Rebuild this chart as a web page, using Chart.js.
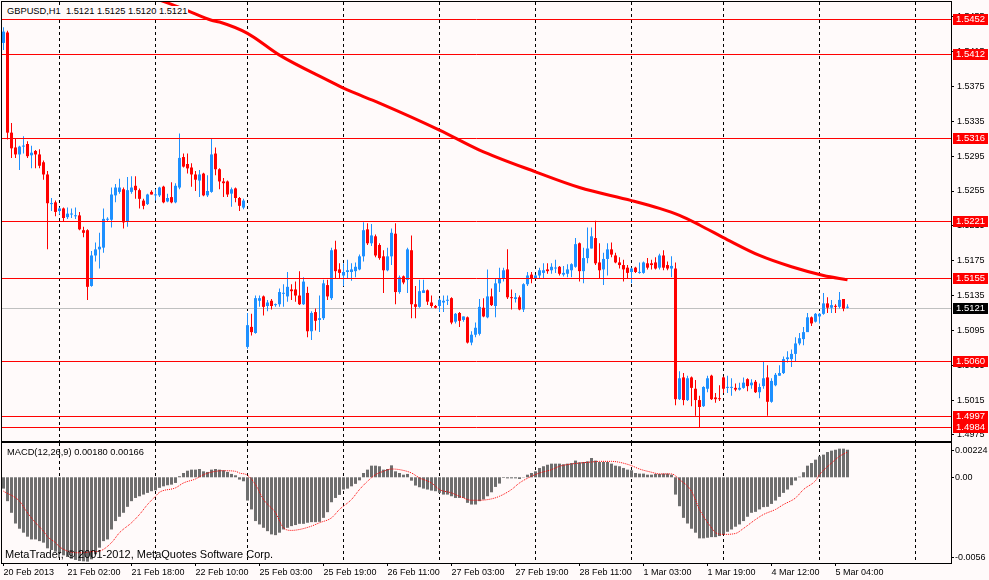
<!DOCTYPE html>
<html><head><meta charset="utf-8">
<script src="https://cdn.jsdelivr.net/npm/chart.js@4.4.1/dist/chart.umd.min.js"></script>
<style>
html,body{margin:0;padding:0;background:#FFFAFA;width:989px;height:580px;overflow:hidden;}
#wrap{position:relative;width:989px;height:580px;background:#FFFAFA;}
canvas{position:absolute;left:0;}
#pc{top:0;} #mc{top:442px;}
.lbl{position:absolute;font-family:"Liberation Sans",Arial,sans-serif;font-size:9.3px;color:#000;white-space:pre;line-height:11px;}
</style></head>
<body><div id="wrap">
<canvas id="pc" width="989" height="442"></canvas>
<canvas id="mc" width="989" height="138"></canvas>
<div class="lbl" style="left:5px;top:6px;background:#FFFAFA;padding:0 1px 0 2px">GBPUSD,H1  1.5121 1.5125 1.5120 1.5121</div>
<div class="lbl" style="left:7px;top:447px">MACD(12,26,9) 0.00180 0.00166</div>
<div class="lbl" style="left:5px;top:548px;font-size:11px;line-height:13px">MetaTrader, © 2001-2012, MetaQuotes Software Corp.</div>
</div>
<script>
// ---- data ----
const open = [1.5425,1.5437,1.5322,1.5305,1.5297,1.5306,1.5309,1.5296,1.5301,1.5297,
1.5288,1.5274,1.5240,1.5242,1.5232,1.5235,1.5225,1.5228,1.5226,1.5227,
1.5210,1.5210,1.5146,1.5181,1.5188,1.5190,1.5222,1.5222,1.5250,1.5254,
1.5257,1.5220,1.5254,1.5261,1.5256,1.5244,1.5240,1.5254,1.5250,1.5250,
1.5260,1.5243,1.5248,1.5242,1.5259,1.5294,1.5286,1.5282,1.5274,1.5267,
1.5275,1.5250,1.5254,1.5298,1.5280,1.5266,1.5266,1.5252,1.5258,1.5247,
1.5236,1.5076,1.5099,1.5092,1.5129,1.5134,1.5123,1.5129,1.5124,1.5125,
1.5137,1.5134,1.5142,1.5142,1.5135,1.5125,1.5138,1.5094,1.5116,1.5107,
1.5109,1.5147,1.5132,1.5188,1.5165,1.5158,1.5162,1.5162,1.5163,1.5165,
1.5180,1.5211,1.5195,1.5203,1.5193,1.5180,1.5164,1.5180,1.5206,1.5139,
1.5157,1.5153,1.5187,1.5125,1.5122,1.5138,1.5141,1.5127,1.5123,1.5123,
1.5127,1.5129,1.5132,1.5105,1.5115,1.5107,1.5110,1.5081,1.5090,1.5091,
1.5121,1.5110,1.5134,1.5123,1.5149,1.5155,1.5165,1.5133,1.5131,1.5133,
1.5119,1.5148,1.5159,1.5155,1.5158,1.5161,1.5165,1.5164,1.5166,1.5168,
1.5159,1.5160,1.5164,1.5168,1.5195,1.5163,1.5178,1.5189,1.5201,1.5173,
1.5165,1.5177,1.5188,1.5181,1.5173,1.5170,1.5167,1.5162,1.5167,1.5161,
1.5161,1.5172,1.5172,1.5173,1.5167,1.5181,1.5170,1.5166,1.5166,1.5016,
1.5041,1.5015,1.5041,1.5028,1.5015,1.5008,1.5028,1.5043,1.5018,1.5017,
1.5041,1.5029,1.5029,1.5029,1.5027,1.5029,1.5039,1.5032,1.5036,1.5024,
1.5031,1.5041,1.5013,1.5032,1.5043,1.5046,1.5062,1.5062,1.5068,1.5080,
1.5085,1.5093,1.5110,1.5105,1.5111,1.5114,1.5126,1.5121,1.5123,1.5122,
1.5131,1.5121];
const high = [1.5443,1.5439,1.5333,1.5316,1.5307,1.5318,1.5312,1.5307,1.5302,1.5303,
1.5290,1.5278,1.5247,1.5244,1.5236,1.5236,1.5236,1.5235,1.5236,1.5231,
1.5214,1.5211,1.5186,1.5196,1.5207,1.5235,1.5225,1.5259,1.5263,1.5269,
1.5259,1.5271,1.5272,1.5272,1.5258,1.5246,1.5252,1.5256,1.5257,1.5260,
1.5261,1.5252,1.5265,1.5264,1.5321,1.5298,1.5298,1.5287,1.5278,1.5279,
1.5276,1.5273,1.5316,1.5305,1.5281,1.5270,1.5267,1.5259,1.5259,1.5248,
1.5246,1.5115,1.5114,1.5135,1.5135,1.5135,1.5130,1.5131,1.5126,1.5143,
1.5148,1.5162,1.5148,1.5151,1.5163,1.5156,1.5145,1.5117,1.5120,1.5135,
1.5153,1.5153,1.5190,1.5198,1.5172,1.5172,1.5176,1.5172,1.5173,1.5182,
1.5219,1.5218,1.5217,1.5205,1.5195,1.5187,1.5190,1.5212,1.5218,1.5158,
1.5158,1.5190,1.5204,1.5146,1.5153,1.5153,1.5142,1.5135,1.5124,1.5132,
1.5135,1.5135,1.5133,1.5115,1.5116,1.5111,1.5111,1.5094,1.5104,1.5131,
1.5132,1.5165,1.5143,1.5154,1.5167,1.5167,1.5188,1.5142,1.5138,1.5135,
1.5149,1.5162,1.5162,1.5159,1.5167,1.5172,1.5172,1.5172,1.5176,1.5169,
1.5169,1.5171,1.5172,1.5201,1.5196,1.5190,1.5213,1.5213,1.5221,1.5195,
1.5184,1.5195,1.5196,1.5184,1.5179,1.5176,1.5170,1.5167,1.5168,1.5173,
1.5174,1.5178,1.5176,1.5179,1.5183,1.5187,1.5174,1.5180,1.5173,1.5048,
1.5046,1.5043,1.5042,1.5038,1.5020,1.5031,1.5043,1.5044,1.5023,1.5032,
1.5042,1.5043,1.5040,1.5034,1.5035,1.5041,1.5040,1.5039,1.5038,1.5034,
1.5059,1.5055,1.5040,1.5046,1.5055,1.5065,1.5071,1.5073,1.5087,1.5092,
1.5099,1.5115,1.5111,1.5115,1.5115,1.5138,1.5133,1.5130,1.5125,1.5139,
1.5131,1.5125];
const low = [1.5417,1.5314,1.5293,1.5293,1.5279,1.5298,1.5293,1.5281,1.5281,1.5281,
1.5268,1.5188,1.5232,1.5226,1.5228,1.5220,1.5223,1.5224,1.5223,1.5210,
1.5202,1.5130,1.5145,1.5174,1.5166,1.5184,1.5220,1.5213,1.5242,1.5252,
1.5212,1.5214,1.5252,1.5246,1.5235,1.5234,1.5239,1.5251,1.5244,1.5248,
1.5241,1.5242,1.5241,1.5241,1.5257,1.5282,1.5275,1.5260,1.5255,1.5248,
1.5249,1.5248,1.5253,1.5273,1.5257,1.5248,1.5248,1.5237,1.5242,1.5232,
1.5234,1.5074,1.5089,1.5091,1.5122,1.5112,1.5117,1.5119,1.5122,1.5122,
1.5122,1.5128,1.5130,1.5128,1.5124,1.5124,1.5087,1.5084,1.5095,1.5093,
1.5107,1.5130,1.5130,1.5155,1.5155,1.5146,1.5155,1.5152,1.5156,1.5164,
1.5174,1.5193,1.5192,1.5179,1.5176,1.5138,1.5163,1.5170,1.5125,1.5137,
1.5148,1.5138,1.5109,1.5109,1.5121,1.5138,1.5124,1.5121,1.5120,1.5116,
1.5116,1.5124,1.5102,1.5103,1.5099,1.5105,1.5080,1.5078,1.5087,1.5089,
1.5110,1.5109,1.5123,1.5110,1.5139,1.5151,1.5131,1.5119,1.5127,1.5118,
1.5116,1.5146,1.5149,1.5155,1.5155,1.5155,1.5160,1.5160,1.5161,1.5158,
1.5157,1.5156,1.5156,1.5167,1.5151,1.5149,1.5172,1.5189,1.5170,1.5155,
1.5147,1.5158,1.5179,1.5172,1.5166,1.5151,1.5155,1.5149,1.5161,1.5160,
1.5160,1.5165,1.5165,1.5165,1.5165,1.5164,1.5164,1.5156,1.5009,1.5015,
1.5009,1.5014,1.5008,1.4997,1.4983,1.5007,1.5024,1.5015,1.5012,1.5014,
1.5023,1.5023,1.5020,1.5025,1.5026,1.5028,1.5025,1.5028,1.5023,1.5017,
1.5028,1.4997,1.5012,1.5031,1.5043,1.5045,1.5058,1.5053,1.5059,1.5078,
1.5078,1.5093,1.5100,1.5104,1.5103,1.5113,1.5115,1.5115,1.5115,1.5120,
1.5117,1.5120];
const close = [1.5438,1.5322,1.5304,1.5297,1.5306,1.5307,1.5295,1.5299,1.5297,1.5284,
1.5274,1.5241,1.5241,1.5231,1.5235,1.5224,1.5229,1.5229,1.5227,1.5211,
1.5207,1.5145,1.5181,1.5188,1.5191,1.5223,1.5223,1.5251,1.5259,1.5259,
1.5219,1.5256,1.5259,1.5256,1.5246,1.5238,1.5251,1.5251,1.5251,1.5259,
1.5242,1.5247,1.5242,1.5261,1.5293,1.5283,1.5281,1.5274,1.5268,1.5274,
1.5250,1.5255,1.5297,1.5280,1.5266,1.5264,1.5251,1.5257,1.5247,1.5238,
1.5244,1.5101,1.5093,1.5132,1.5132,1.5122,1.5127,1.5123,1.5125,1.5139,
1.5138,1.5145,1.5140,1.5135,1.5125,1.5151,1.5094,1.5115,1.5106,1.5109,
1.5149,1.5134,1.5187,1.5163,1.5161,1.5162,1.5164,1.5165,1.5168,1.5180,
1.5210,1.5195,1.5204,1.5181,1.5178,1.5164,1.5180,1.5207,1.5139,1.5156,
1.5150,1.5188,1.5125,1.5122,1.5140,1.5141,1.5128,1.5123,1.5121,1.5130,
1.5129,1.5130,1.5104,1.5114,1.5106,1.5111,1.5081,1.5090,1.5098,1.5122,
1.5111,1.5134,1.5124,1.5149,1.5155,1.5164,1.5133,1.5132,1.5133,1.5119,
1.5148,1.5158,1.5155,1.5158,1.5164,1.5164,1.5163,1.5168,1.5167,1.5160,
1.5161,1.5165,1.5171,1.5194,1.5163,1.5178,1.5189,1.5203,1.5172,1.5164,
1.5177,1.5188,1.5182,1.5173,1.5170,1.5165,1.5161,1.5166,1.5162,1.5162,
1.5173,1.5167,1.5170,1.5166,1.5181,1.5167,1.5166,1.5169,1.5016,1.5040,
1.5015,1.5040,1.5029,1.5015,1.5007,1.5030,1.5040,1.5016,1.5016,1.5016,
1.5028,1.5030,1.5030,1.5027,1.5029,1.5035,1.5031,1.5035,1.5024,1.5030,
1.5040,1.5013,1.5037,1.5044,1.5046,1.5062,1.5064,1.5068,1.5080,1.5086,
1.5093,1.5110,1.5103,1.5114,1.5114,1.5126,1.5121,1.5124,1.5122,1.5130,
1.5120,1.5121];

// moving average (sampled at bar indexes)
const maBar = [36,41,46,52,54,61,69,82,85,94,109,119,133,144,157,164,169,174,181,189,197,205,211];
const maVal = [1.5479,1.5471,1.5462,1.5451,1.5449,1.5436,1.5411,1.5380,1.5373,1.5356,1.5325,1.5302,1.5277,1.5259,1.5244,1.5235,1.5227,1.5216,1.5199,1.5181,1.5168,1.5158,1.5153];

// MACD histogram (one per bar)
const macdHist = [-0.00074,-0.00156,-0.00232,-0.00302,-0.00336,-0.00362,-0.00388,-0.00406,-0.00406,-0.00417,
-0.00427,-0.00464,-0.00475,-0.00486,-0.00497,-0.00510,-0.00521,-0.00532,-0.00540,-0.00547,
-0.00549,-0.00551,-0.00536,-0.00503,-0.00460,-0.00417,-0.00406,-0.00341,-0.00286,-0.00258,
-0.00232,-0.00193,-0.00156,-0.00135,-0.00124,-0.00113,-0.00102,-0.00091,-0.00085,-0.00069,
-0.00059,-0.00052,-0.00048,-0.00037,0.00007,0.00028,0.00043,0.00050,0.00050,0.00054,
0.00039,0.00035,0.00050,0.00054,0.00050,0.00046,0.00035,0.00022,0.00013,-0.00015,
-0.00026,-0.00152,-0.00210,-0.00286,-0.00308,-0.00330,-0.00352,-0.00373,-0.00378,-0.00362,
-0.00341,-0.00330,-0.00319,-0.00312,-0.00304,-0.00304,-0.00297,-0.00293,-0.00293,-0.00291,
-0.00265,-0.00228,-0.00163,-0.00135,-0.00115,-0.00080,-0.00074,-0.00059,-0.00043,-0.00020,
0.00028,0.00050,0.00076,0.00076,0.00072,0.00050,0.00054,0.00078,0.00039,0.00028,
0.00017,0.00022,-0.00022,-0.00054,-0.00065,-0.00074,-0.00080,-0.00087,-0.00091,-0.00102,
-0.00113,-0.00113,-0.00124,-0.00135,-0.00135,-0.00135,-0.00167,-0.00178,-0.00178,-0.00156,
-0.00145,-0.00124,-0.00098,-0.00063,-0.00041,-0.00004,-0.00007,-0.00007,-0.00007,-0.00011,
0.00002,0.00017,0.00028,0.00039,0.00061,0.00072,0.00082,0.00089,0.00089,0.00089,
0.00085,0.00089,0.00093,0.00109,0.00098,0.00100,0.00104,0.00126,0.00109,0.00100,
0.00100,0.00100,0.00089,0.00076,0.00072,0.00061,0.00050,0.00046,0.00028,0.00024,
0.00024,0.00017,0.00017,0.00022,0.00022,0.00024,0.00024,0.00017,-0.00113,-0.00189,
-0.00265,-0.00302,-0.00336,-0.00362,-0.00399,-0.00399,-0.00395,-0.00391,-0.00391,-0.00384,
-0.00373,-0.00356,-0.00341,-0.00323,-0.00308,-0.00286,-0.00258,-0.00232,-0.00226,-0.00210,
-0.00195,-0.00193,-0.00174,-0.00152,-0.00128,-0.00102,-0.00080,-0.00052,-0.00022,0.00004,
0.00033,0.00076,0.00093,0.00115,0.00137,0.00148,0.00165,0.00174,0.00180,0.00187,
0.00187,0.00180];

// MACD signal (sampled at bar indexes)
const sigBar = [0,4,6,8,10,11,13,14,16,18,20,22,24,27,29,32,34,36,38,39,43,45,48,50,53,55,58,59,61,63,65,68,70,72,74,77,79,82,84,87,89,91,93,95,97,99,102,104,107,109,112,114,117,119,122,124,127,129,132,134,137,139,142,144,147,149,152,154,157,159,162,164,167,169,172,174,177,178,180,183,185,188,190,193,195,198,200,203,204,207,209,211];
const sigVal = [-0.00091,-0.00156,-0.00232,-0.00297,-0.00352,-0.00388,-0.00427,-0.00454,-0.00482,-0.00493,-0.00493,-0.00486,-0.00482,-0.00427,-0.00362,-0.00297,-0.00243,-0.00178,-0.00124,-0.00098,-0.00069,-0.00037,-0.00011,0.00017,0.00039,0.00043,0.00039,0.00028,0.00013,-0.00048,-0.00145,-0.00232,-0.00330,-0.00347,-0.00341,-0.00319,-0.00297,-0.00265,-0.00210,-0.00145,-0.00080,-0.00026,0.00017,0.00039,0.00054,0.00050,0.00028,-0.00004,-0.00037,-0.00080,-0.00102,-0.00124,-0.00150,-0.00150,-0.00141,-0.00124,-0.00080,-0.00037,0.00007,0.00028,0.00050,0.00072,0.00087,0.00093,0.00100,0.00104,0.00104,0.00098,0.00076,0.00054,0.00033,0.00022,0.00022,-0.00015,-0.00091,-0.00210,-0.00330,-0.00362,-0.00373,-0.00367,-0.00334,-0.00276,-0.00243,-0.00210,-0.00178,-0.00135,-0.00080,-0.00022,0.00017,0.00093,0.00137,0.00165];

const redLevels = [1.5452,1.5412,1.5316,1.5221,1.5155,1.5060,1.4997,1.4984];
const bidPrice = 1.5121;
const priceTicks = [1.4975,1.5015,1.5055,1.5095,1.5135,1.5175,1.5215,1.5255,1.5295,1.5335,1.5375,1.5415,1.5455];
const macdTicks = [0.00224,0,-0.0056];
const macdTickLabels = ['0.00224','0.00','-0.0056'];
const dayBars = [14,38,61,85,109,133,157,180,204,228];
const labelBars = [0,16,32,48,64,80,96,112,128,144,160,176,192,208];
const labelTexts = ['20 Feb 2013','21 Feb 02:00','21 Feb 18:00','22 Feb 10:00','25 Feb 03:00','25 Feb 19:00','26 Feb 11:00','27 Feb 03:00','27 Feb 19:00','28 Feb 11:00','1 Mar 03:00','1 Mar 19:00','4 Mar 12:00','5 Mar 04:00'];

// ---- styling / layout ----
const FONT = '"Liberation Sans", Arial, sans-serif';
const FS = 9;
const BULL = '#1E90FF', BEAR = '#FF0000', HIST = '#6E6E6E';
const XMIN = -0.375, XMAX = 236.875;
const PMIN = 1.4968, PMAX = 1.5472;
Chart.defaults.font.family = FONT;
Chart.defaults.font.size = FS;
Chart.defaults.color = '#000';

const idx = open.map((_, i) => i);
const candleColor = idx.map(i => close[i] >= open[i] ? BULL : BEAR);

function zeroPad(s){ s.paddingLeft = 0; s.paddingRight = 0; s.paddingTop = 0; s.paddingBottom = 0; }

const framePlugin = {
  id: 'frame',
  afterDraw(chart) {
    const {ctx, chartArea: a} = chart;
    ctx.save();
    ctx.strokeStyle = '#000'; ctx.lineWidth = 1;
    ctx.strokeRect(Math.round(a.left) - 0.5, Math.round(a.top) - 0.5, Math.round(a.right - a.left) + 1, Math.round(a.bottom - a.top) + 1);
    ctx.restore();
  }
};

const levelPlugin = {
  id: 'levels',
  beforeDatasetsDraw(chart) {
    const {ctx, chartArea: a, scales: {y}} = chart;
    const py = Math.round(y.getPixelForValue(bidPrice)) + 0.5;
    ctx.save();
    ctx.strokeStyle = '#C0C0C0'; ctx.lineWidth = 1;
    ctx.beginPath(); ctx.moveTo(a.left, py); ctx.lineTo(a.right, py); ctx.stroke();
    ctx.restore();
  },
  afterDatasetsDraw(chart) {
    const {ctx, chartArea: a, scales: {y}} = chart;
    ctx.save();
    ctx.strokeStyle = '#FF0000'; ctx.lineWidth = 1;
    redLevels.forEach(v => {
      const py = Math.round(y.getPixelForValue(v)) + 0.5;
      ctx.beginPath(); ctx.moveTo(a.left, py); ctx.lineTo(a.right, py); ctx.stroke();
    });
    ctx.restore();
  },
  afterDraw(chart) {
    const {ctx, chartArea: a, scales: {y}} = chart;
    ctx.save();
    ctx.font = '9.5px ' + FONT;
    ctx.textBaseline = 'middle';
    const box = (v, bg) => {
      const py = Math.round(y.getPixelForValue(v));
      ctx.fillStyle = bg;
      ctx.fillRect(a.right + 2, py - 5, 35, 11);
      ctx.fillStyle = '#FFFFFF';
      ctx.fillText(v.toFixed(4), a.right + 5, py + 0.5);
    };
    redLevels.forEach(v => box(v, '#FF0000'));
    box(bidPrice, '#000000');
    ctx.restore();
  }
};

const macdAxisPlugin = {
  id: 'macdAxis',
  afterDraw(chart) {
    const {ctx, chartArea: a, scales: {y}} = chart;
    ctx.save();
    ctx.font = FS + 'px ' + FONT;
    ctx.fillStyle = '#000'; ctx.strokeStyle = '#000'; ctx.lineWidth = 1;
    ctx.textBaseline = 'middle';
    macdTicks.forEach((v, k) => {
      let py = y.getPixelForValue(v);
      py = Math.min(Math.max(py, a.top + 7), a.bottom - 6);
      py = Math.round(py) + 0.5;
      ctx.beginPath(); ctx.moveTo(a.right, py); ctx.lineTo(a.right + 3, py); ctx.stroke();
      ctx.fillText(macdTickLabels[k], a.right + 4, py);
    });
    ctx.restore();
  }
};

// ---- price chart ----
new Chart(document.getElementById('pc'), {
  type: 'bar',
  data: {
    datasets: [
      { type: 'bar', data: idx.map(i => ({x: i, y: [low[i], high[i]]})), backgroundColor: candleColor,
        barThickness: 1, grouped: false, inflateAmount: 0, borderWidth: 0, order: 3 },
      { type: 'bar', data: idx.map(i => ({x: i, y: [open[i], close[i]]})), backgroundColor: candleColor,
        barThickness: 3, minBarLength: 1, grouped: false, inflateAmount: 0, borderWidth: 0, order: 2 },
      { type: 'line', data: maBar.map((b, k) => ({x: b, y: maVal[k]})), borderColor: '#FF0000', borderWidth: 3,
        pointRadius: 0, cubicInterpolationMode: 'monotone', order: 1 }
    ]
  },
  options: {
    animation: false, responsive: false, devicePixelRatio: 1,
    layout: { autoPadding: false, padding: { left: 2, top: 2, right: 0, bottom: 1 } },
    plugins: { legend: { display: false }, tooltip: { enabled: false } },
    scales: {
      x: {
        type: 'linear', min: XMIN, max: XMAX, offset: false,
        afterBuildTicks: s => { s.ticks = dayBars.map(v => ({value: v})); },
        ticks: { display: false },
        grid: { offset: false, color: '#000', lineWidth: 1, drawTicks: false },
        border: { display: false, dash: [3, 3] },
        afterFit: s => { s.height = 0; zeroPad(s); }
      },
      y: {
        type: 'linear', position: 'right', min: PMIN, max: PMAX, beginAtZero: false,
        afterBuildTicks: s => { s.ticks = priceTicks.map(v => ({value: v})); },
        ticks: { color: '#000', padding: 3, font: { size: FS, family: FONT }, callback: v => Number(v).toFixed(4) },
        grid: { drawOnChartArea: false, drawTicks: true, tickLength: 3, color: '#000' },
        border: { display: true, color: '#000' },
        afterFit: s => { s.width = 38; zeroPad(s); }
      }
    }
  },
  plugins: [levelPlugin, framePlugin]
});

// ---- MACD chart ----
new Chart(document.getElementById('mc'), {
  type: 'bar',
  data: {
    datasets: [
      { type: 'bar', data: macdHist.map((v, i) => ({x: i, y: v})), backgroundColor: HIST,
        barThickness: 3, grouped: false, inflateAmount: 0, borderWidth: 0, order: 2 },
      { type: 'line', data: sigBar.map((b, k) => ({x: b, y: sigVal[k]})), borderColor: '#FF0000', borderWidth: 1,
        borderDash: [1, 1], pointRadius: 0, cubicInterpolationMode: 'monotone', order: 1 }
    ]
  },
  options: {
    animation: false, responsive: false, devicePixelRatio: 1,
    layout: { autoPadding: false, padding: { left: 2, top: 1, right: 0, bottom: 0 } },
    plugins: { legend: { display: false }, tooltip: { enabled: false } },
    scales: {
      x: {
        type: 'linear', position: 'bottom', min: XMIN, max: XMAX, offset: false,
        afterBuildTicks: s => { s.ticks = labelBars.map(v => ({value: v})); },
        ticks: { autoSkip: false, maxRotation: 0, minRotation: 0, align: 'start', padding: 1, color: '#000',
                 font: { size: FS, family: FONT }, callback: (v, i) => labelTexts[i] },
        grid: { offset: false, drawOnChartArea: false, drawTicks: true, tickLength: 3, color: '#000' },
        border: { display: false },
        afterFit: s => { s.height = 17; zeroPad(s); }
      },
      xg: {
        type: 'linear', position: 'bottom', min: XMIN, max: XMAX, offset: false,
        afterBuildTicks: s => { s.ticks = dayBars.map(v => ({value: v})); },
        ticks: { display: false },
        grid: { offset: false, color: '#000', lineWidth: 1, drawTicks: false },
        border: { display: false, dash: [3, 3] },
        afterFit: s => { s.height = 0; zeroPad(s); }
      },
      y: {
        type: 'linear', position: 'right', min: -0.0056, max: 0.00224, beginAtZero: false,
        ticks: { display: false },
        grid: { display: false },
        border: { display: true, color: '#000' },
        afterFit: s => { s.width = 38; zeroPad(s); }
      }
    }
  },
  plugins: [framePlugin, macdAxisPlugin]
});
</script>
</body></html>
